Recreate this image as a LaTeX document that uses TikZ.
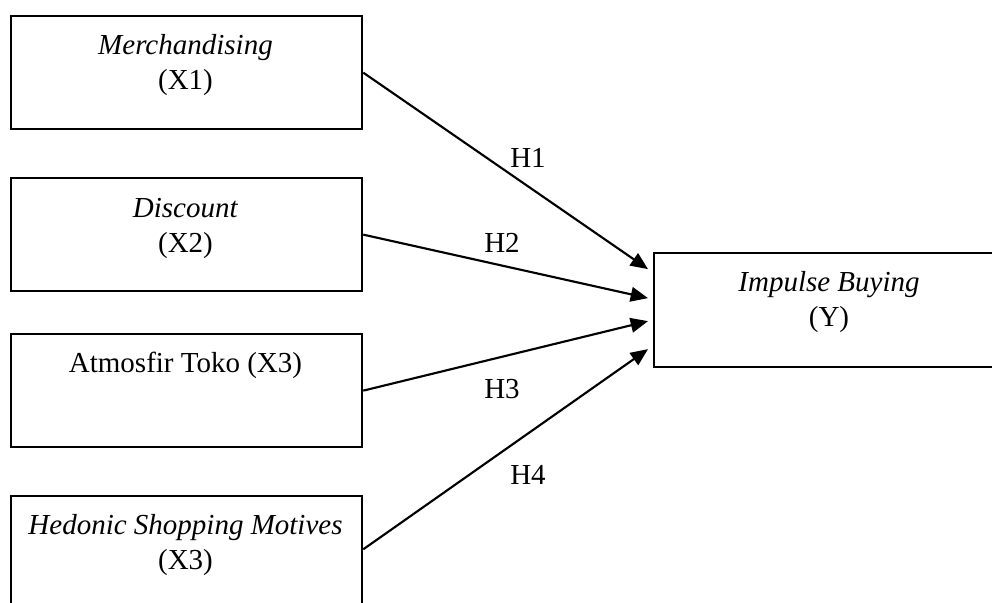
\documentclass[tikz,border=0pt]{standalone}
\usepackage{fontspec}
\setmainfont{Liberation Serif}
\usetikzlibrary{arrows.meta}
\begin{document}
\begin{tikzpicture}[x=0.75pt,y=-0.75pt,
  box/.style={draw=black,line width=1.7pt,minimum width=351*0.75pt,minimum height=113*0.75pt,inner sep=0pt,anchor=north west},
  txt/.style={align=center,inner sep=0pt,font=\fontsize{21.75}{26.25}\selectfont},
  lab/.style={inner sep=0pt,font=\fontsize{21.75}{26.25}\selectfont},
  conn/.style={line width=1.6pt,-{Triangle[length=13pt,width=11pt]}}]
\useasboundingbox (0,0) rectangle (992,603);
\clip (0,0) rectangle (992,603);
\node[box] (b1) at (10,15) {};
\node[box] (b2) at (10,177) {};
\node[box] (b3) at (10,333) {};
\node[box] (b4) at (10,495) {};
\node[box,minimum width=352*0.75pt,minimum height=114*0.75pt] (y) at (653,252) {};
\node[txt] (t1) at (185.5,65) {\textit{Merchandising}\\(X1)};
\node[txt] (t2) at (185.5,228) {\textit{Discount}\\(X2)};
\node[txt] (t3) at (185.5,365) {Atmosfir Toko (X3)};
\node[txt] (t4) at (185.5,545) {\textit{Hedonic Shopping Motives}\\(X3)};
\node[txt] (ty) at (829,302) {\textit{Impulse Buying}\\(Y)};
\draw[conn] (b1.east) -- ([shift={(-5,-41)}]y.west) coordinate (e1);
\draw[conn] (b2.east) -- ([shift={(-5,-12)}]y.west) coordinate (e2);
\draw[conn] (b3.east) -- ([shift={(-5,11)}]y.west) coordinate (e3);
\draw[conn] ([yshift=2.5pt]b4.east) -- ([shift={(-5,39)}]y.west) coordinate (e4);
\node[lab] (h1) at (528,158) {H1};
\node[lab] (h2) at (502,243) {H2};
\node[lab] (h3) at (502,389) {H3};
\node[lab] (h4) at (528,475) {H4};
\end{tikzpicture}
\end{document}
